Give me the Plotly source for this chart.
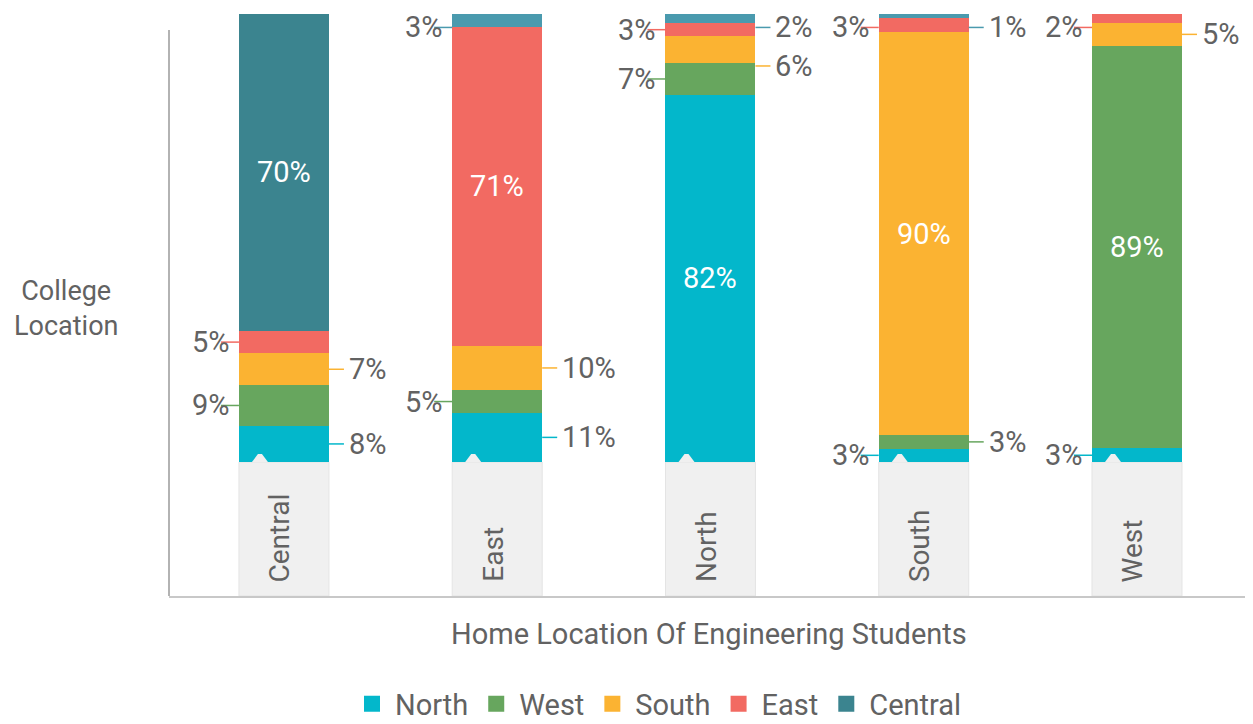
import plotly.graph_objects as go

# ---------------- data ----------------
categories = ["Central", "East", "North", "South", "West"]
north = [8, 11, 82, 3, 3]
west = [9, 5, 7, 3, 89]
south = [7, 10, 6, 90, 5]
east = [5, 71, 3, 3, 2]
central = [70, 3, 2, 1, 0]

series_names = ["North", "West", "South", "East", "Central"]
series_values = [north, west, south, east, central]

# ---------------- style ----------------
colors = {
    "North": "#03b7cb",
    "West": "#67a65e",
    "South": "#fbb332",
    "East": "#f26a62",
    "Central": "#3b848f",
}
central_bar_colors = ["#3b848f", "#4a9aae", "#4a9aae", "#4a9aae", "#4a9aae"]
TEXT = "#626262"
FONT = "Roboto"
FS = 29
BAR_W = 0.422
Y_MIN = -29.9
LABEL_Y_MAX = 97.0   # keep labels near the top inside the page
LABEL_GAP = 8.6      # min vertical gap between labels on the same side
# side of the first outside label in each bar (then alternating)
first_side = ["R", "R", "L", "L", "L"]

# page body has an 8px margin -> compensate
OFF = 8
W, H = 1253 - OFF, 724 - OFF
ML, MT, MB = 169 - OFF, 14 - OFF, 128
PLOT_W, PLOT_H = W - ML, H - MT - MB

x_pos = list(range(len(categories)))

fig = go.Figure()
for name, vals in zip(series_names, series_values):
    mc = central_bar_colors if name == "Central" else colors[name]
    fig.add_trace(go.Bar(
        x=x_pos, y=vals, name=name, width=BAR_W,
        marker=dict(color=mc, line=dict(width=0)),
        hoverinfo="skip", showlegend=False,
    ))
# legend entries with larger square symbols
for name in series_names:
    fig.add_trace(go.Scatter(
        x=[None], y=[None], mode="markers", name=name,
        marker=dict(symbol="square", size=17, color=colors[name]),
        hoverinfo="skip", showlegend=True,
    ))

shapes = []
annotations = []

# category boxes + notch + label
for i, cat in enumerate(categories):
    shapes.append(dict(type="rect", xref="x", yref="y", x0=i - BAR_W / 2, x1=i + BAR_W / 2,
                       y0=Y_MIN, y1=0, fillcolor="#f0f0f0",
                       line=dict(color="#e4e4e4", width=1), layer="below"))
    shapes.append(dict(type="path", xref="x", yref="y", xsizemode="pixel", ysizemode="pixel",
                       xanchor=i - BAR_W / 2, yanchor=0,
                       path="M 13 0 L 19 8 L 23 8 L 29 0 Z",
                       fillcolor="#f0f0f0", line=dict(width=0), layer="above"))
    annotations.append(dict(x=i, y=Y_MIN, xref="x", yref="y", text=cat, showarrow=False,
                            textangle=-90, yanchor="bottom", xanchor="center", yshift=12,
                            xshift=-4, font=dict(family=FONT, size=FS - 1, color=TEXT)))

# value labels
for i in range(len(categories)):
    total = sum(v[i] for v in series_values)
    cum = 0.0
    side = first_side[i]
    outside = {"L": [], "R": []}
    for name, vals in zip(series_names, series_values):
        v = vals[i]
        if v == 0:
            continue
        h = v / total * 100
        mid = cum + h / 2
        cum += h
        label = f"{v}%"
        if v > 50:
            annotations.append(dict(x=i, y=mid, xref="x", yref="y", text=label, showarrow=False,
                                    font=dict(family=FONT, size=FS, color="white")))
            continue
        col = central_bar_colors[i] if name == "Central" else colors[name]
        outside[side].append([mid, label, col])
        side = "L" if side == "R" else "R"
    # resolve collisions from the top down
    for sd, items in outside.items():
        prev = None
        for it in sorted(items, key=lambda t: -t[0]):
            y = min(it[0], LABEL_Y_MAX)
            if prev is not None:
                y = min(y, prev - LABEL_GAP)
            prev = y
            mid, label, col = it
            if sd == "R":
                edge = i + BAR_W / 2
                shapes.append(dict(type="line", xref="x", yref="y", xsizemode="pixel", xanchor=edge,
                                   x0=0, x1=15, y0=y, y1=y, line=dict(color=col, width=1.5)))
                annotations.append(dict(x=edge, y=y, xref="x", yref="y", text=label, showarrow=False,
                                        xanchor="left", yanchor="middle", xshift=18,
                                        font=dict(family=FONT, size=FS, color=TEXT)))
            else:
                edge = i - BAR_W / 2
                shapes.append(dict(type="line", xref="x", yref="y", xsizemode="pixel", xanchor=edge,
                                   x0=-18, x1=0, y0=y, y1=y, line=dict(color=col, width=1.5)))
                annotations.append(dict(x=edge, y=y, xref="x", yref="y", text=label, showarrow=False,
                                        xanchor="right", yanchor="middle", xshift=-7,
                                        font=dict(family=FONT, size=FS, color=TEXT)))

# y axis line
shapes.append(dict(type="line", xref="paper", yref="paper", x0=0, x1=0,
                   y0=0, y1=(596 - 30) / PLOT_H,
                   line=dict(color="#9a9a9a", width=1.5), layer="below"))

# axis titles
annotations.append(dict(x=0, y=(596 - 308) / PLOT_H, xref="paper", yref="paper", xshift=-103,
                        xanchor="center", yanchor="middle", align="center",
                        text="College<br>Location", showarrow=False,
                        font=dict(family=FONT, size=FS - 2, color=TEXT)))
annotations.append(dict(x=(709 - 169) / PLOT_W, y=(596 - 634) / PLOT_H, xref="paper", yref="paper",
                        xanchor="center", yanchor="middle",
                        text="Home Location Of Engineering Students", showarrow=False,
                        font=dict(family=FONT, size=FS, color=TEXT)))

fig.update_layout(
    width=W, height=H,
    barmode="stack",
    barnorm="percent",
    margin=dict(l=ML, r=0, t=MT, b=MB, pad=0, autoexpand=False),
    plot_bgcolor="white", paper_bgcolor="white",
    font=dict(family=FONT, color=TEXT),
    xaxis=dict(range=[-0.539, 4.544], showticklabels=False, showgrid=False, zeroline=False,
               showline=True, linecolor="#c8c8c8", linewidth=2, ticks=""),
    yaxis=dict(range=[Y_MIN, 100], showticklabels=False, showgrid=False, zeroline=False,
               showline=False, ticks=""),
    legend=dict(orientation="h", x=(658 - 169) / PLOT_W, xanchor="center",
                y=(596 - 704) / PLOT_H, yanchor="middle", traceorder="normal",
                font=dict(family=FONT, size=FS, color=TEXT), itemclick=False,
                itemwidth=36),
    shapes=shapes,
    annotations=annotations,
    showlegend=True,
)

fig.write_html("out.html")
